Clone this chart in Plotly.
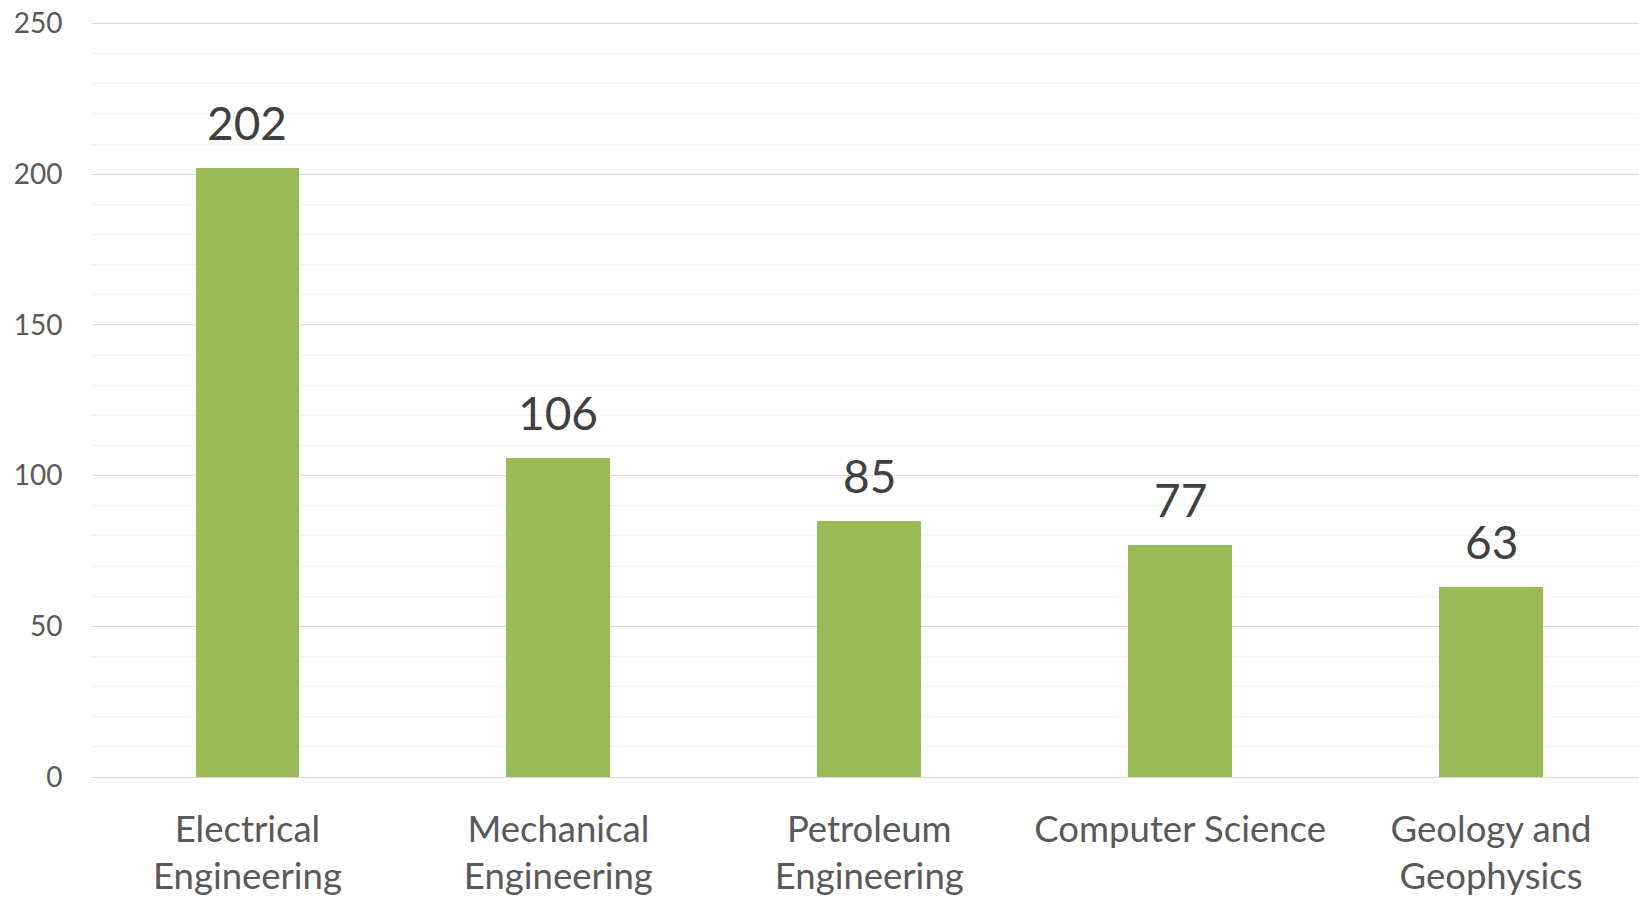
import plotly.graph_objects as go

categories = ["Electrical<br>Engineering", "Mechanical<br>Engineering", "Petroleum<br>Engineering",
              "Computer Science", "Geology and<br>Geophysics"]
values = [202, 106, 85, 77, 63]
y_ticks = [0, 50, 100, 150, 200, 250]

FONT = "Lato, Carlito, Calibri, sans-serif"
xs = list(range(len(categories)))

fig = go.Figure()
fig.add_trace(go.Bar(
    x=xs, y=values,
    marker=dict(color="#9BBB59", line=dict(width=0)),
    width=0.334,
    hoverinfo="x+y",
))

for x, v in zip(xs, values):
    fig.add_annotation(
        x=x, y=v, text=str(v), showarrow=False,
        xanchor="center", yanchor="bottom", yshift=16,
        font=dict(family=FONT, size=46, color="#404040"),
    )

fig.update_layout(
    width=1639, height=899,
    margin=dict(l=91.5, r=0, t=21.5, b=122, autoexpand=False),
    paper_bgcolor="white", plot_bgcolor="white",
    showlegend=False,
    bargap=0,
    font=dict(family=FONT),
    xaxis=dict(
        tickmode="array", tickvals=xs, ticktext=categories,
        range=[-0.5, 4.476],
        tickfont=dict(family=FONT, size=36.5, color="#595959"),
        showgrid=False, zeroline=False, showline=False,
        ticks="outside", ticklen=20, tickcolor="rgba(0,0,0,0)",
    ),
    yaxis=dict(
        range=[0, 250.5], tickvals=y_ticks,
        tickfont=dict(family=FONT, size=28, color="#595959"),
        ticklabeloverflow="allow",
        showgrid=True, gridcolor="#d9d9d9", gridwidth=1.3,
        zeroline=True, zerolinecolor="#d9d9d9", zerolinewidth=1.3,
        showline=False,
        ticks="outside", ticklen=23, tickcolor="rgba(0,0,0,0)",
        minor=dict(dtick=10, showgrid=True, gridcolor="#f2f2f2", gridwidth=1.3),
    ),
)

fig.write_html(
    "out.html",
    config={"displayModeBar": False},
    post_script="document.body.style.margin='0';document.body.style.overflow='hidden';",
)
